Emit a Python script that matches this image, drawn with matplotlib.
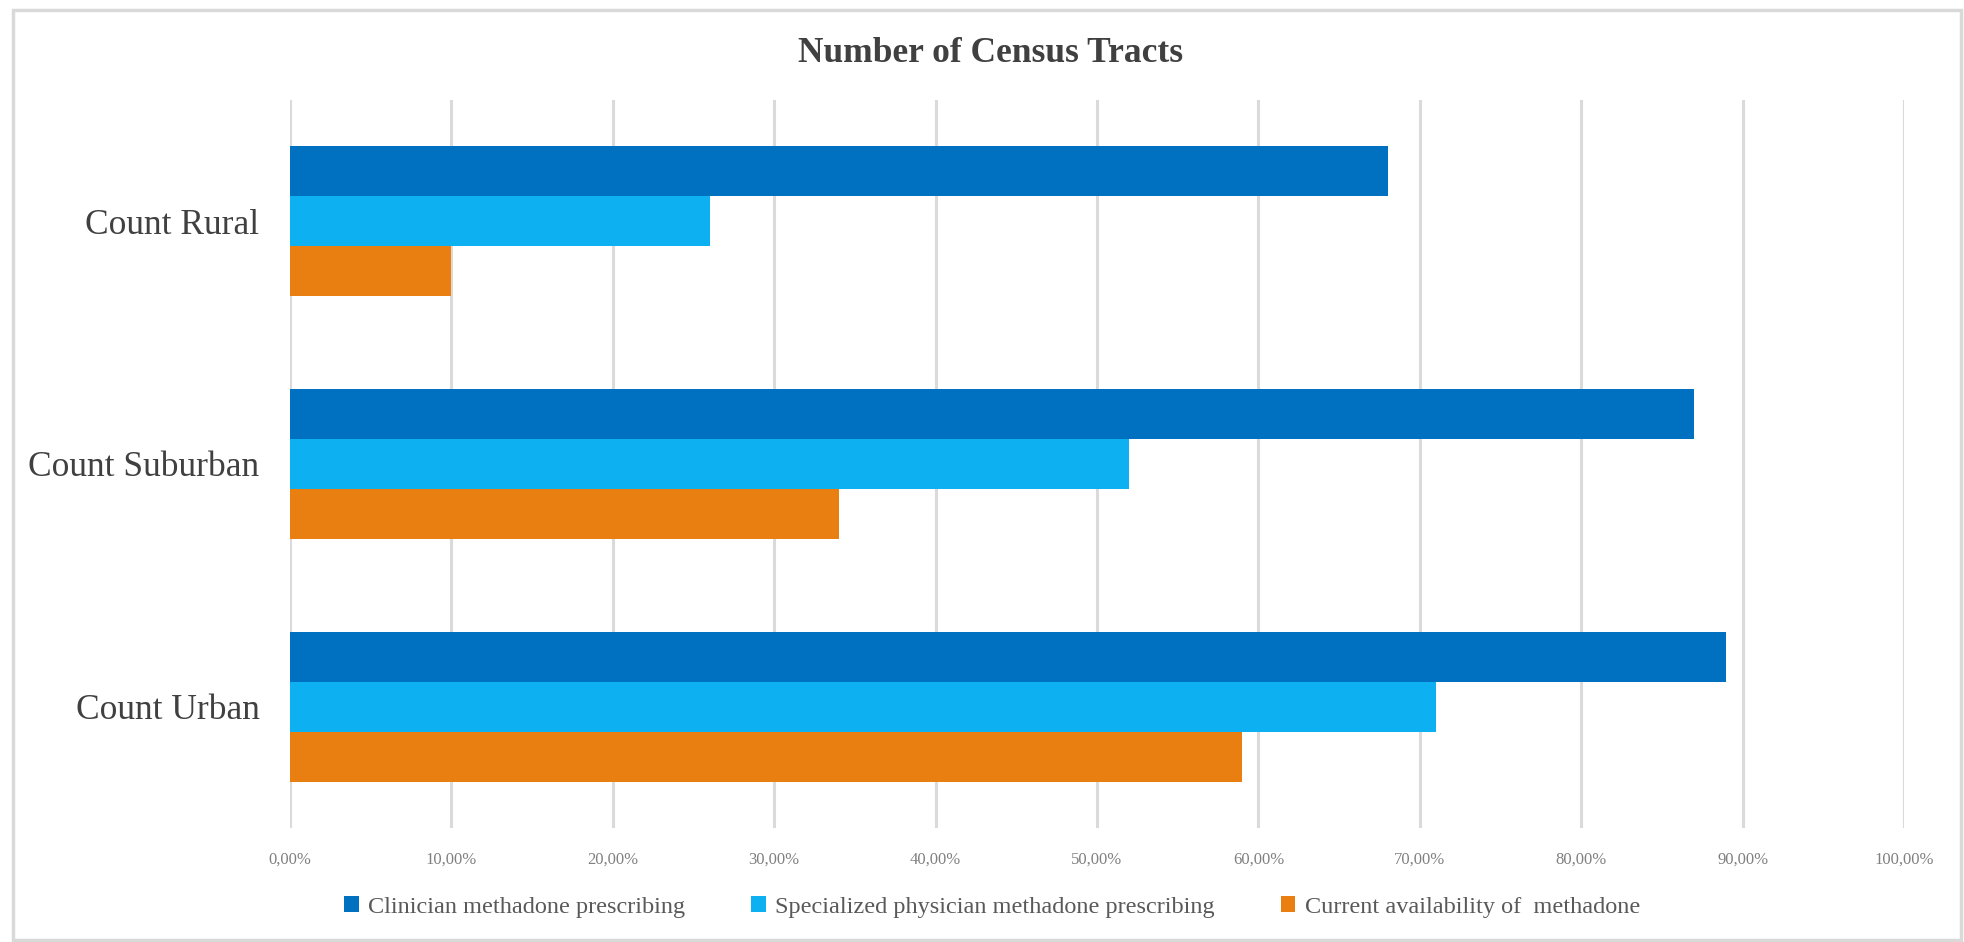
import matplotlib
matplotlib.use("Agg")
import matplotlib.pyplot as plt
import numpy as np
from matplotlib.ticker import FuncFormatter
from matplotlib.patches import Rectangle

categories = ["Count Rural", "Count Suburban", "Count Urban"]
series_names = ["Clinician methadone prescribing",
                "Specialized physician methadone prescribing",
                "Current availability of  methadone"]
clinician = [68, 87, 89]
specialized = [26, 52, 71]
current = [10, 34, 59]
series_values = [clinician, specialized, current]
colors = ["#0070C0", "#0DB0F0", "#E97F10"]
tick_values = list(range(0, 101, 10))

W, H = 1964, 942
fig = plt.figure(figsize=(W / 100, H / 100), dpi=100)
fig.patch.set_facecolor("white")
serif = "Liberation Serif"

ax = fig.add_axes([290 / W, 1 - 828 / H, (1904 - 290) / W, (828 - 100) / H])
n = len(categories)
y = np.arange(n)
bh = 0.206
for i, (name, vals, c) in enumerate(zip(series_names, series_values, colors)):
    ax.barh(y + (i - 1) * bh, vals, height=bh, color=c, label=name, zorder=3)

ax.set_ylim(n - 0.5, -0.5)
ax.set_xlim(0, 100)
ax.set_xticks(tick_values)
ax.xaxis.set_major_formatter(FuncFormatter(lambda v, p: f"{v:.2f}%".replace(".", ",")))
ax.set_yticks(y)
ax.set_yticklabels(categories, fontfamily=serif, fontsize=25.5, color="#404040")
ax.tick_params(axis="y", length=0, pad=22)
ax.tick_params(axis="x", length=0, pad=17, labelsize=12, labelcolor="#808080")
for lab in ax.get_xticklabels():
    lab.set_fontfamily(serif)
ax.grid(axis="x", color="#DADADA", linewidth=2.2, zorder=0)
ax.grid(axis="y", visible=False)
for s in ax.spines.values():
    s.set_visible(False)

fig.text(991 / W, 1 - 53 / H, "Number of Census Tracts", ha="center", va="center",
         fontfamily=serif, fontsize=25.5, fontweight="bold", color="#404040")

leg = fig.legend(loc="center", bbox_to_anchor=(992 / W, 1 - 907 / H), ncol=3,
                 frameon=False, handlelength=0.6, handleheight=0.6,
                 handletextpad=0.4, columnspacing=2.7,
                 prop={"family": serif, "size": 17.5})
for t in leg.get_texts():
    t.set_color("#595959")

fig.patches.append(Rectangle((13 / W, 1 - 940 / H), (1961 - 13) / W, (940 - 10) / H,
                             transform=fig.transFigure, fill=False,
                             edgecolor="#D9D9D9", linewidth=2.5))

fig.savefig("out.png", dpi=100, facecolor="white")
